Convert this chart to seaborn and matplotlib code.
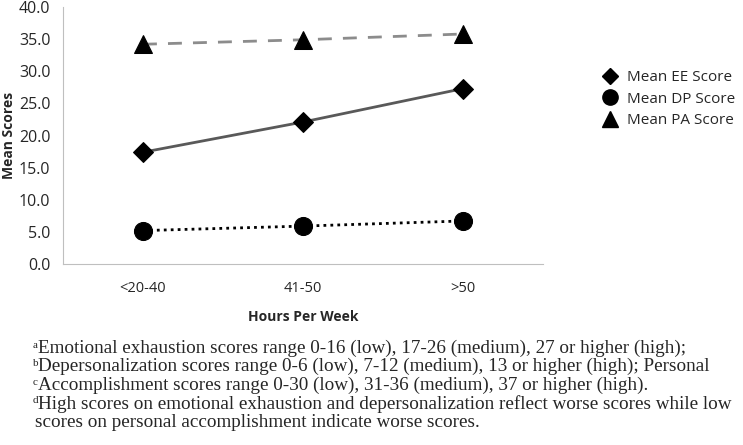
import numpy as np
import pandas as pd
import matplotlib
matplotlib.use("Agg")
import matplotlib.pyplot as plt
from matplotlib.lines import Line2D
import seaborn as sns

hours = ["<20-40", "41-50", ">50"]
ee_scores = [17.4, 22.1, 27.3]
dp_scores = [5.2, 5.9, 6.7]
pa_scores = [34.2, 34.9, 35.8]
series_names = ["Mean EE Score", "Mean DP Score", "Mean PA Score"]
yticks = np.arange(0, 40.1, 5)

note_marks = ["a", "b", "c", "d", ""]
footnotes = [
    "Emotional exhaustion scores range 0-16 (low), 17-26 (medium), 27 or higher (high);",
    "Depersonalization scores range 0-6 (low), 7-12 (medium), 13 or higher (high); Personal",
    "Accomplishment scores range 0-30 (low), 31-36 (medium), 37 or higher (high).",
    "High scores on emotional exhaustion and depersonalization reflect worse scores while low",
    "scores on personal accomplishment indicate worse scores.",
]

sns.set_style("white")
plt.rcParams["font.family"] = ["Open Sans", "DejaVu Sans"]

df = pd.DataFrame({"hours": hours, "EE": ee_scores, "DP": dp_scores, "PA": pa_scores})

fig = plt.figure(figsize=(7.43, 4.45), dpi=100)
ax = fig.add_axes([63 / 743, 1 - 264 / 445, 480 / 743, 257 / 445])

styles = {
    "EE": dict(color="#595959", linestyle="-", marker="D", ms=10),
    "DP": dict(color="black", linestyle=(0, (1, 1.5)), marker="o", ms=13),
    "PA": dict(color="#8c8c8c", linestyle=(0, (5, 4)), marker="^", ms=13),
}
for col, st in styles.items():
    sns.lineplot(data=df, x="hours", y=col, ax=ax, sort=False,
                 color=st["color"], linestyle=st["linestyle"], linewidth=2,
                 marker=st["marker"], markersize=st["ms"],
                 markerfacecolor="black", markeredgecolor="black")

ax.set_xlim(-0.5, 2.5)
ax.set_ylim(0, 40)
ax.set_yticks(yticks)
ax.set_yticklabels([f"{v:.1f}" for v in yticks], fontsize=11.5)
ax.set_xticks(range(len(hours)))
ax.set_xticklabels(hours, fontsize=10.5)
ax.set_xticks(np.arange(-0.5, len(hours)), minor=True)
ax.tick_params(axis="x", which="major", length=0, pad=12)
ax.tick_params(axis="x", which="minor", length=5, color="#bfbfbf", direction="out")
ax.tick_params(axis="y", length=5, color="#bfbfbf", direction="out", pad=4)
for s in ["top", "right"]:
    ax.spines[s].set_visible(False)
for s in ["left", "bottom"]:
    ax.spines[s].set_color("#bfbfbf")
ax.set_xlabel("Hours Per Week", fontsize=10, fontweight="bold")
ax.xaxis.set_label_coords(0.5, -(310 - 264) / 257)
ax.set_ylabel("Mean Scores", fontsize=10, fontweight="bold")
ax.yaxis.set_label_coords(-(63 - 16) / 480, 0.5)

handles = [Line2D([], [], linestyle="none", marker=styles[k]["marker"], color="black",
                  markersize=styles[k]["ms"] - 2) for k in ["EE", "DP", "PA"]]
fig.legend(handles, series_names, loc="upper left", bbox_to_anchor=(598 / 743, 1 - 64 / 445),
           frameon=False, fontsize=11, handlelength=0.8, handletextpad=0.7,
           labelspacing=0.42, borderaxespad=0)

for i, (mark, line) in enumerate(zip(note_marks, footnotes)):
    y = 1 - (348 + i * 18.6) / 445
    if mark:
        fig.text(33 / 743, y + 3 / 445, mark, fontsize=8,
                 family="Liberation Serif", va="center", ha="left")
    fig.text(38 / 743 if mark else 35 / 743, y, line, fontsize=13.8,
             family="Liberation Serif", va="center", ha="left")

fig.savefig("out.png", dpi=100)
